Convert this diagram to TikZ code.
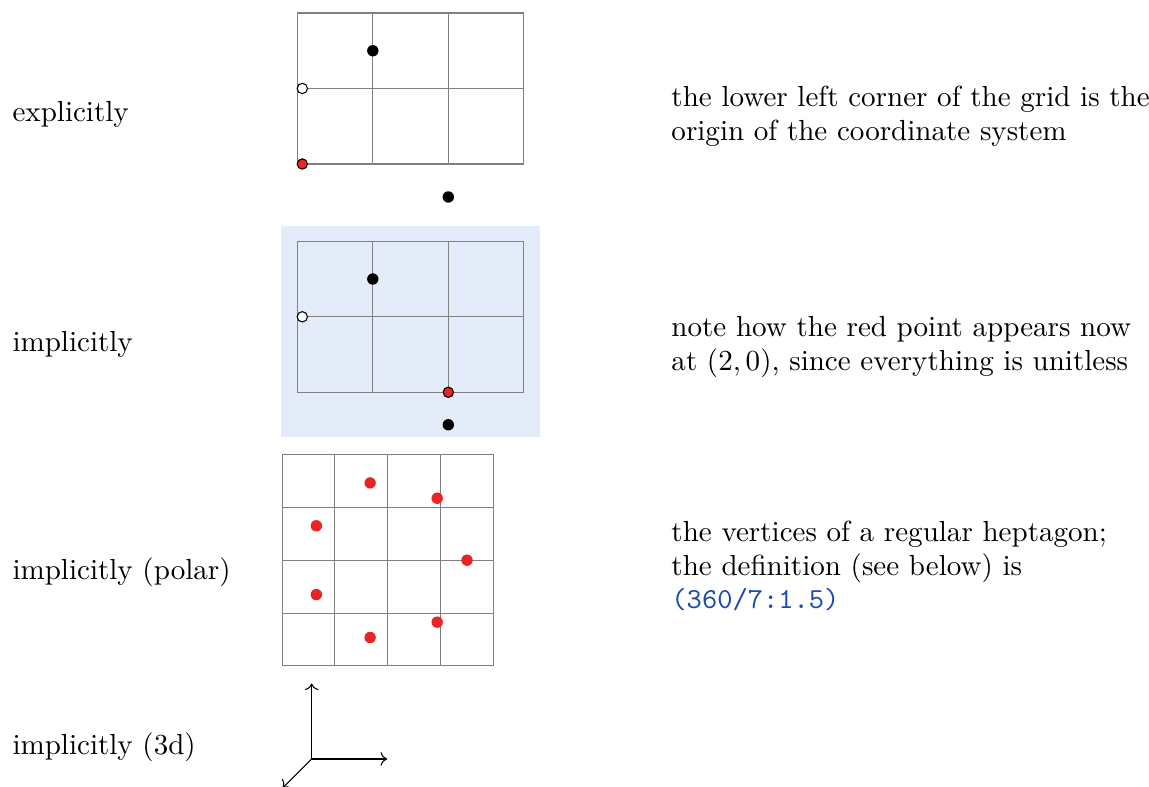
\documentclass[tikz,border=0pt]{standalone}
\usepackage{xcolor}
\usepackage{tikz}
\usetikzlibrary{arrows.meta}
\definecolor{ptred}{RGB}{234,36,36}
\definecolor{bgblue}{RGB}{229,236,249}
\definecolor{codeblue}{RGB}{30,75,172}

\begin{document}
\begin{tikzpicture}[font=\fontsize{10.95}{12.8}\selectfont,
    lbl/.style={anchor=base west,inner sep=0pt},
    note/.style={anchor=base west,inner sep=0pt,align=left},
    gridline/.style={gray,line width=0.4pt},
    dot/.style={circle,inner sep=0pt,minimum size=4.3pt,fill=black},
    odot/.style={circle,inner sep=0pt,minimum size=3.9pt,draw=black,line width=0.4pt,fill=white},
    rdot/.style={odot,fill=ptred},
    hdot/.style={dot,fill=ptred}]
  \useasboundingbox (0,0) rectangle (15.219,-10.424);
  % labels on the left
  \node[lbl] (lexp) at (0.159,-1.616) {explicitly};
  \node[lbl] (limp) at (0.159,-4.658) {implicitly};
  \node[lbl] (lpol) at (0.159,-7.682) {implicitly (polar)};
  \node[lbl] (l3d)  at (0.159,-10.0) {implicitly (3d)};
  % notes on the right (base = last line)
  \node[note] (nexp) at (8.887,-1.864) {the lower left corner of the grid is the\\origin of the coordinate system};
  \node[note] (nimp) at (8.887,-4.901) {note how the red point appears now\\at $(2,0)$, since everything is unitless};
  \node[note] (npol) at (8.887,-8.066) {the vertices of a regular heptagon;\\the definition (see below) is\\\textcolor{codeblue}{\texttt{(360/7:1.5)}}};
  % explicit
  \begin{scope}[shift={(3.938,-2.172)}]
    \draw[gridline] (0,0) grid (3,2);
    \node[dot]  (e1) at (1,1.5) {};
    \node[odot] (e2) at (0.066,1) {};
    \node[rdot] (e3) at (0.066,0) {};
    \node[dot]  (e4) at (2,-0.437) {};
  \end{scope}
  % implicit
  \begin{scope}[shift={(3.938,-5.196)}]
    \fill[bgblue] (-0.21,-0.59) rectangle (3.215,2.2);
    \draw[gridline] (0,0) grid (3,2);
    \node[dot]  (i1) at (1,1.5) {};
    \node[odot] (i2) at (0.066,1) {};
    \node[rdot] (i3) at (2,0) {};
    \node[dot]  (i4) at (2,-0.43) {};
  \end{scope}
  % polar
  \begin{scope}[shift={(5.136,-7.420)},scale=0.7]
    \draw[gridline] (-2,-2) grid (2,2);
    \foreach \k in {1,...,7}{\node[hdot] (h\k) at (\k*360/7:1.5) {};}
  \end{scope}
  % 3d
  \begin{scope}[shift={(4.128,-10.053)}]
    \coordinate (o) at (0,0);
    \coordinate (ax) at (1,0);
    \coordinate (ay) at (0,1);
    \coordinate (az) at (0,0,1);
    \draw[->,line width=0.4pt] (o) -- (ax);
    \draw[->,line width=0.4pt] (o) -- (ay);
    \draw[->,line width=0.4pt] (o) -- (az);
  \end{scope}
\end{tikzpicture}
\end{document}
